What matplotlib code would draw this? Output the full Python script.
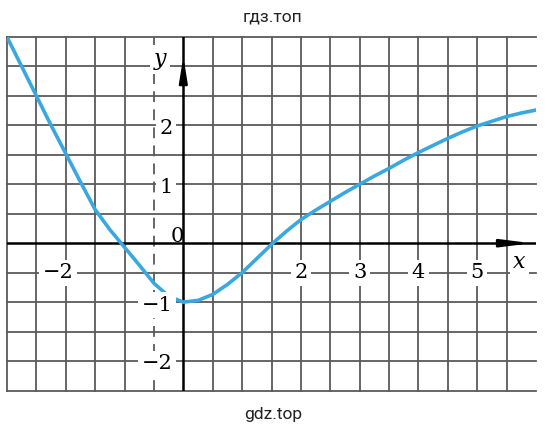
import numpy as np
import matplotlib.pyplot as plt

# curve (two branches meeting at the minimum (0, -1))
x_left = [-3, -2.75, -2.5, -2.25, -2, -1.75, -1.5, -1.25, -1.0, -0.75, -0.5, -0.25, 0]
y_left = [3.5, 3.0, 2.5, 2.0, 1.52, 1.04, 0.57, 0.23, -0.07, -0.37, -0.68, -0.9, -1.0]
x_right = [0, 0.25, 0.5, 0.75, 1.0, 1.25, 1.5, 1.75, 2.0, 2.25, 2.5, 2.75, 3.0,
           3.25, 3.5, 3.75, 4.0, 4.25, 4.5, 4.75, 5.0, 5.25, 5.5, 5.75, 6.0]
y_right = [-1.0, -0.97, -0.87, -0.7, -0.5, -0.26, -0.02, 0.2, 0.4, 0.56, 0.71, 0.86, 1.0,
           1.14, 1.27, 1.41, 1.54, 1.66, 1.78, 1.89, 1.99, 2.07, 2.15, 2.21, 2.26]

x_ticks = [-2, 2, 3, 4, 5]
x_tick_labels = ["\u22122", "2", "3", "4", "5"]
y_ticks = [2, 1, -1, -2]
y_tick_labels = ["2", "1", "\u22121", "\u22122"]

grid_col = "#5a5a5a"
curve_col = "#3aa8e0"
serif = "DejaVu Serif"

fig = plt.figure(figsize=(5.46, 4.34), dpi=100)
ax = fig.add_axes([7 / 546, 1 - 390.5 / 434, 529 / 546, 353.5 / 434])
ax.set_xlim(-3, 6)
ax.set_ylim(-2.5, 3.5)
ax.axis("off")

# grid of half-unit cells
for v in np.arange(-3, 5.75, 0.5):
    if v == 0:
        continue
    ls = (0, (6, 4)) if v == -0.5 else "-"
    ax.axvline(v, color=grid_col, lw=1.3, ls=ls, clip_on=False, zorder=1)
for h in np.arange(-2.5, 3.75, 0.5):
    if h == 0:
        continue
    ax.axhline(h, color=grid_col, lw=1.3, clip_on=False, zorder=1)

# axes
ax.axvline(0, color="black", lw=1.8, zorder=2)
ax.axhline(0, color="black", lw=1.8, zorder=2)
ax.annotate("", xy=(5.97, 0), xytext=(5.5, 0),
            arrowprops=dict(arrowstyle="-|>,head_length=1.1,head_width=0.14",
                            color="black", lw=1.8, mutation_scale=16), zorder=3)
ax.annotate("", xy=(0, 3.22), xytext=(0, 2.8),
            arrowprops=dict(arrowstyle="-|>,head_length=1.0,head_width=0.16",
                            color="black", lw=1.8, mutation_scale=15), zorder=3)

ax.plot(x_left, y_left, color=curve_col, lw=2.6, solid_capstyle="round", zorder=4)
ax.plot(x_right, y_right, color=curve_col, lw=2.6, solid_capstyle="round", zorder=4)

box = dict(facecolor="white", edgecolor="none", pad=2.5)
for xv, lab in zip(x_ticks, x_tick_labels):
    if xv < 0:
        ax.text(xv + 0.13, -0.5, lab, ha="right", va="center", fontsize=15,
                family=serif, bbox=box, zorder=5)
    else:
        ax.text(xv, -0.5, lab, ha="center", va="center", fontsize=15,
                family=serif, bbox=box, zorder=5)
for yv, lab in zip(y_ticks, y_tick_labels):
    ax.text(-0.18, yv - 0.05, lab, ha="right", va="center", fontsize=15,
            family=serif, bbox=box, zorder=5)
ax.text(-0.1, 0.12, "0", ha="center", va="center", fontsize=15, family=serif, zorder=5)
ax.text(5.72, -0.32, "x", ha="center", va="center", fontsize=16, family=serif,
        style="italic", bbox=box, zorder=5)
ax.text(-0.4, 3.12, "y", ha="center", va="center", fontsize=16, family=serif,
        style="italic", bbox=box, zorder=5)

fig.text(0.5, 1 - 17 / 434, "гдз.топ", ha="center", va="center", fontsize=12.5,
         family="Roboto", color="#222222")
fig.text(0.5, 1 - 414 / 434, "gdz.top", ha="center", va="center", fontsize=12.5,
         family="Roboto", color="#222222")

fig.savefig("out.png", dpi=100)
